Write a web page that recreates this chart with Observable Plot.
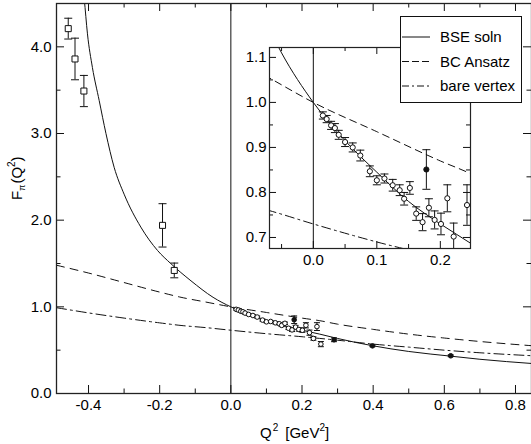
<!DOCTYPE html>
<html><head><meta charset="utf-8">
<script src="https://cdn.jsdelivr.net/npm/d3@7"></script>
<script src="https://cdn.jsdelivr.net/npm/@observablehq/plot@0.6"></script>
<style>
html,body{margin:0;padding:0;background:#fff;overflow:hidden;}
#wrap{position:relative;width:531px;height:444px;overflow:hidden;font-family:"Liberation Sans",Arial,Helvetica,sans-serif;}
#wrap > svg{position:absolute;}
</style></head><body><div id="wrap"></div>
<script>
// ---- data ----
const bseQ = [-0.416,-0.412,-0.403,-0.389,-0.370,-0.351,-0.328,-0.300,-0.253,-0.206,-0.169,-0.112,-0.05,0,0.05,0.1,0.15,0.2,0.25,0.3,0.4,0.5,0.62,0.7,0.85];
const bseF = [4.70,4.55,4.15,3.76,3.38,3.00,2.61,2.30,1.92,1.65,1.50,1.30,1.11,1.0,0.915,0.845,0.78,0.73,0.685,0.635,0.55,0.485,0.43,0.395,0.345];
const bcQ = [-0.49,-0.4,-0.3,-0.2,-0.14,-0.07,0,0.1,0.2,0.25,0.3,0.4,0.5,0.6,0.7,0.85];
const bcF = [1.48,1.39,1.28,1.17,1.11,1.055,1.0,0.935,0.87,0.84,0.80,0.74,0.685,0.64,0.60,0.55];
const bareQ = [-0.49,-0.4,-0.3,-0.2,-0.14,-0.07,0,0.1,0.2,0.3,0.4,0.5,0.6,0.7,0.85];
const bareF = [0.99,0.93,0.87,0.815,0.785,0.76,0.73,0.69,0.655,0.615,0.57,0.535,0.50,0.47,0.435];

const sqQ = [-0.457,-0.438,-0.413,-0.192,-0.159];
const sqF = [4.21,3.86,3.49,1.94,1.42];
const sqErr = [0.12,0.24,0.18,0.25,0.085];

const openQ = [0.015,0.021,0.028,0.034,0.040,0.050,0.062,0.074,0.089,0.100,0.112,0.125,0.136,0.143,0.152,0.162,0.172,0.182,0.191,0.201,0.211,0.221,0.242,0.232,0.253];
const openF = [0.971,0.963,0.949,0.943,0.928,0.912,0.900,0.882,0.847,0.827,0.831,0.816,0.805,0.786,0.810,0.753,0.734,0.766,0.739,0.730,0.787,0.702,0.772,0.635,0.570];
const openErr = [0.008,0.008,0.009,0.010,0.010,0.010,0.010,0.012,0.012,0.010,0.010,0.013,0.012,0.014,0.014,0.015,0.019,0.020,0.020,0.024,0.030,0.030,0.045,0.020,0.030];

const fillQ = [0.178,0.290,0.398,0.618];
const fillF = [0.851,0.620,0.550,0.435];
const fillErr = [0.044,0.022,0.010,0.010];

const xMajor = [-0.4,-0.2,0,0.2,0.4,0.6,0.8];
const xMinor = [-0.3,-0.1,0.1,0.3,0.5,0.7];
const yMajor = [0,1,2,3,4];
const yMinor = [0.5,1.5,2.5,3.5];
const inXMajor = [0,0.1,0.2];
const inXMinor = [-0.05,0.05,0.15];
const inYMajor = [0.7,0.8,0.9,1.0,1.1];
const inYMinor = [0.75,0.85,0.95,1.05];
const legendLabels = ["BSE soln","BC Ansatz","bare vertex"];

// ---- tables ----
const toRows = (Q,F,E) => Q.map((q,i)=>({q, f:F[i], e:E ? E[i] : 0}));
const bse = toRows(bseQ,bseF), bc = toRows(bcQ,bcF), bare = toRows(bareQ,bareF);
const sq = toRows(sqQ,sqF,sqErr), open = toRows(openQ,openF,openErr), filled = toRows(fillQ,fillF,fillErr);

const FONT = '"Liberation Sans",Arial,Helvetica,sans-serif';
const fmt = d => d.toFixed(1);
const cap = {draw(ctx,size){const w=Math.sqrt(size/Math.PI);ctx.moveTo(-w,0);ctx.lineTo(w,0);}};
const INK = "#111";

function errMarks(rows, capR){
  return [
    Plot.ruleX(rows, {x:"q", y1:d=>d.f-d.e, y2:d=>d.f+d.e, stroke:INK, strokeWidth:1, clip:true}),
    Plot.dot(rows, {x:"q", y:d=>d.f-d.e, symbol:cap, r:capR, stroke:INK, fill:"none", strokeWidth:1, clip:true}),
    Plot.dot(rows, {x:"q", y:d=>d.f+d.e, symbol:cap, r:capR, stroke:INK, fill:"none", strokeWidth:1, clip:true})
  ];
}
function tickMarks(xMaj,xMin,yMaj,yMin,iw,ih,L,l){
  const s = {stroke:INK, strokeWidth:1};
  return [
    Plot.tickX(xMaj,{...s, insetTop:ih-L}), Plot.tickX(xMin,{...s, insetTop:ih-l}),
    Plot.tickX(xMaj,{...s, insetBottom:ih-L}), Plot.tickX(xMin,{...s, insetBottom:ih-l}),
    Plot.tickY(yMaj,{...s, insetRight:iw-L}), Plot.tickY(yMin,{...s, insetRight:iw-l}),
    Plot.tickY(yMaj,{...s, insetLeft:iw-L}), Plot.tickY(yMin,{...s, insetLeft:iw-l})
  ];
}
function curveMarks(dashBC, dashBare){
  return [
    Plot.line(bare,{x:"q",y:"f",curve:"monotone-x",stroke:INK,strokeWidth:1,strokeDasharray:dashBare,clip:true}),
    Plot.line(bc,{x:"q",y:"f",curve:"monotone-x",stroke:INK,strokeWidth:1,strokeDasharray:dashBC,clip:true}),
    Plot.line(bse,{x:"q",y:"f",curve:"monotone-x",stroke:INK,strokeWidth:1,clip:true})
  ];
}

// ---- main plot ----
const W=531, H=444, mT=3, mR=0, mB=51, mL=56;
const iw = W-mL-mR, ih = H-mT-mB;
const main = Plot.plot({
  width:W, height:H, marginTop:mT, marginRight:mR, marginBottom:mB, marginLeft:mL,
  x:{domain:[-0.49,0.845], label:null}, y:{domain:[0,4.5], label:null},
  style:{fontFamily:FONT, fontSize:"15px", color:"black", background:"transparent"},
  marks:[
    Plot.ruleX([0],{stroke:INK, strokeWidth:1}),
    ...curveMarks("8,6","10,4,2,4"),
    ...errMarks(sq,4), ...errMarks(open,3), ...errMarks(filled,3),
    Plot.dot(sq,{x:"q",y:"f",symbol:"square",r:3.4,fill:"white",stroke:INK,strokeWidth:1}),
    Plot.dot(open,{x:"q",y:"f",r:2.3,fill:"white",stroke:INK,strokeWidth:1,clip:true}),
    Plot.dot(filled,{x:"q",y:"f",r:2.3,fill:INK,stroke:INK,strokeWidth:1,clip:true}),
    ...tickMarks(xMajor,xMinor,yMajor,yMinor,iw,ih,8,4.5),
    Plot.axisX(xMajor,{anchor:"bottom",tickSize:0,tickPadding:6,tickFormat:fmt,label:null}),
    Plot.axisY(yMajor,{anchor:"left",tickSize:0,tickPadding:5,tickFormat:fmt,label:null}),
    Plot.frame({stroke:"#222",strokeWidth:1.3})
  ]
});
main.style.left="0px"; main.style.top="0px";
document.getElementById("wrap").appendChild(main);

// ---- inset ----
const IW=247, IH=234, iT=7, iR=2, iB=26, iL=44;
const iiw = IW-iL-iR, iih = IH-iT-iB;
const inset = Plot.plot({
  width:IW, height:IH, marginTop:iT, marginRight:iR, marginBottom:iB, marginLeft:iL,
  x:{domain:[-0.069,0.2475], label:null}, y:{domain:[0.6755,1.122], label:null},
  style:{fontFamily:FONT, fontSize:"15px", color:"black", background:"transparent"},
  marks:[
    Plot.frame({fill:"white"}),
    Plot.ruleX([0],{stroke:INK, strokeWidth:1}),
    ...curveMarks("7,5","9,4,2,4"),
    ...errMarks(open,4), ...errMarks(filled,4),
    Plot.dot(open,{x:"q",y:"f",r:2.6,fill:"white",stroke:INK,strokeWidth:1,clip:true}),
    Plot.dot(filled,{x:"q",y:"f",r:2.6,fill:INK,stroke:INK,strokeWidth:1,clip:true}),
    ...tickMarks(inXMajor,inXMinor,inYMajor,inYMinor,iiw,iih,7,4),
    Plot.axisX(inXMajor,{anchor:"bottom",tickSize:0,tickPadding:6,tickFormat:fmt,label:null}),
    Plot.axisY(inYMajor,{anchor:"left",tickSize:0,tickPadding:3,tickFormat:fmt,label:null}),
    Plot.frame({stroke:"#222",strokeWidth:1.2})
  ]
});
inset.style.left="225px"; inset.style.top="40px";
document.getElementById("wrap").appendChild(inset);

// ---- overlay: axis titles + legend ----
const ns="http://www.w3.org/2000/svg";
const ov = d3.select("#wrap").append("svg").attr("xmlns",ns)
  .attr("width",W).attr("height",H).style("left","0px").style("top","0px")
  .style("font-family",FONT).style("font-size","15px");
// x title
const xt = ov.append("text").attr("x",260).attr("y",438).attr("fill","black");
xt.append("tspan").text("Q");
xt.append("tspan").attr("font-size","10px").attr("dy",-7).attr("dx",1).text("2");
xt.append("tspan").attr("dy",7).attr("dx",7).text("[GeV");
xt.append("tspan").attr("font-size","10px").attr("dy",-7).text("2");
xt.append("tspan").attr("dy",7).text("]");
// y title
const yt = ov.append("text").attr("transform","translate(22,200) rotate(-90)").attr("fill","black");
yt.append("tspan").text("F");
yt.append("tspan").attr("font-size","9px").attr("dy",3).text("π");
yt.append("tspan").attr("dy",-3).attr("dx",1).text("(Q");
yt.append("tspan").attr("font-size","10px").attr("dy",-7).text("2");
yt.append("tspan").attr("dy",7).text(")");
// legend
const lg = ov.append("g");
lg.append("rect").attr("x",400.5).attr("y",16.5).attr("width",121).attr("height",86)
  .attr("fill","white").attr("stroke",INK).attr("stroke-width",1);
const dashes = [null,"7,3","7,3,2,3"];
legendLabels.forEach((lab,i)=>{
  const yy = 37 + i*24.5;
  lg.append("line").attr("x1",402).attr("x2",430).attr("y1",yy).attr("y2",yy)
    .attr("stroke",INK).attr("stroke-width",1).attr("stroke-dasharray",dashes[i]);
  lg.append("text").attr("x",440).attr("y",yy+5).attr("fill","black").text(lab);
});
</script></body></html>
